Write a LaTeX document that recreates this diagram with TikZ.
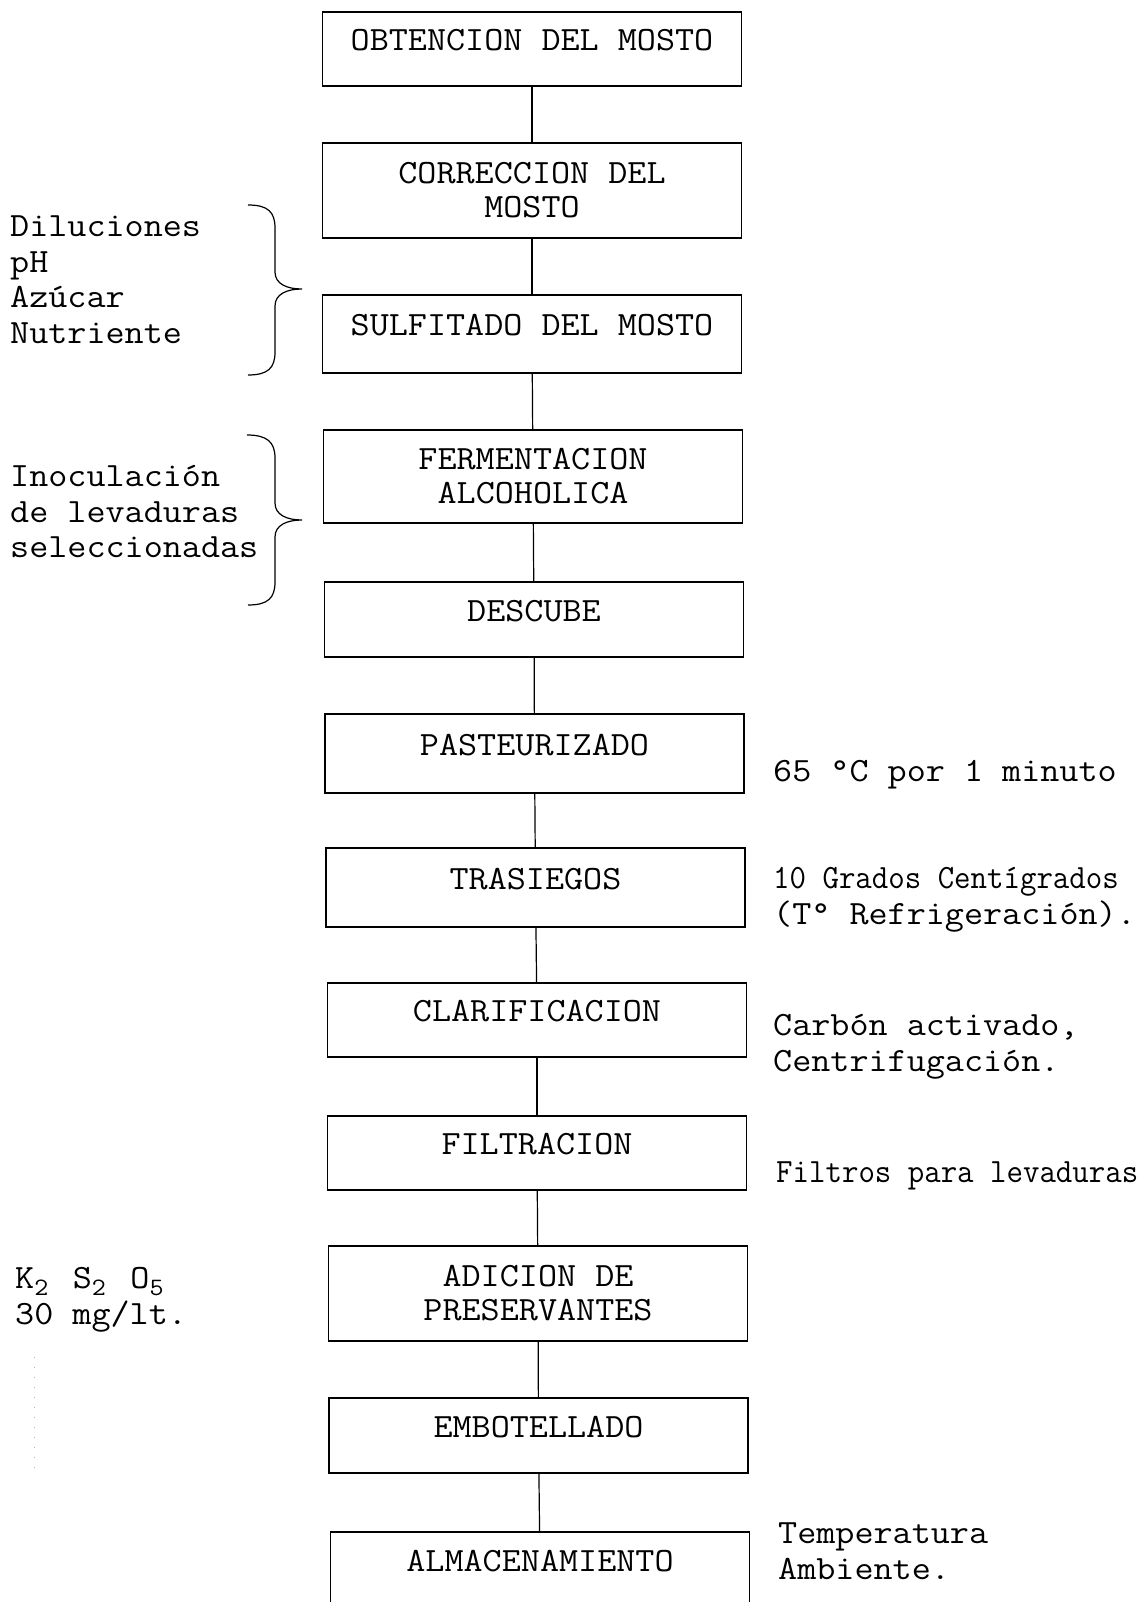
\documentclass[tikz,border=0pt]{standalone}
\usepackage{fontspec}
\setmonofont[FakeStretch=1.09]{Latin Modern Mono}
\newfontfamily\narrowmono[FakeStretch=0.94]{Latin Modern Mono}
\newcommand\lowdigit[1]{\makebox[0.572em][l]{\raisebox{-0.2em}{\fontsize{25}{25}\selectfont #1}}}

\begin{document}
\begin{tikzpicture}[x=1pt,y=-1pt,
  every node/.style={font=\ttfamily\fontsize{34}{34}\selectfont},
  stage/.style={draw,line width=1.3pt,minimum width=419pt,inner sep=0pt,align=center},
  onestage/.style={stage,minimum height=76pt,text depth=18pt},
  twostage/.style={stage,minimum height=95pt},
  note/.style={anchor=base west,align=left,inner sep=0pt,font=\ttfamily\fontsize{34}{35.5}\selectfont},
  link/.style={line width=1.2pt},
  curly/.style={line width=1.2pt}]

\path[fill=white] (0,0) rectangle (1147,1602);
\useasboundingbox (0,0) rectangle (1147,1602);

% etapas del proceso
\node[onestage,minimum height=74pt] (obtencion) at (532,49) {OBTENCION DEL MOSTO};
\node[twostage] (correccion) at (532,190.5) {CORRECCION DEL\\MOSTO};
\node[onestage,minimum height=78pt] (sulfitado) at (532,334) {SULFITADO DEL MOSTO};
\node[twostage,minimum height=93pt] (fermentacion) at (533,476.5) {FERMENTACION\\ALCOHOLICA};
\node[onestage,minimum height=75pt] (descube) at (534,619.5) {DESCUBE};
\node[onestage,minimum height=79pt] (pasteurizado) at (534.5,753.5) {PASTEURIZADO};
\node[onestage,minimum height=79pt] (trasiegos) at (535.5,887.5) {TRASIEGOS};
\node[onestage,minimum height=74pt] (clarificacion) at (537,1020) {CLARIFICACION};
\node[onestage,minimum height=74pt] (filtracion) at (537,1153) {FILTRACION};
\node[twostage] (adicion) at (538,1293.5) {ADICION DE\\PRESERVANTES};
\node[onestage,minimum height=75pt] (embotellado) at (538.5,1435.5) {EMBOTELLADO};
\node[onestage] (almacenamiento) at (540,1570) {ALMACENAMIENTO};

\draw[link] (obtencion) -- (correccion);
\draw[link] (correccion) -- (sulfitado);
\draw[link] (sulfitado) -- (fermentacion);
\draw[link] (fermentacion) -- (descube);
\draw[link] (descube) -- (pasteurizado);
\draw[link] (pasteurizado) -- (trasiegos);
\draw[link] (trasiegos) -- (clarificacion);
\draw[link] (clarificacion) -- (filtracion);
\draw[link] (filtracion) -- (adicion);
\draw[link] (adicion) -- (embotellado);
\draw[link] (embotellado) -- (almacenamiento);

% notas de la izquierda (base = ultima linea)
\node[note] (correctivos) at (10,343) {Diluciones\\pH\\Azúcar\\Nutriente};
\node[note] (inoculo) at (10,557.5) {Inoculación\\de levaduras\\seleccionadas};
\node[note] (sulfito) at (15,1324) {K\lowdigit{2} S\lowdigit{2} O\lowdigit{5}\\30 mg/lt.};

\draw[curly] (248,205) .. controls (268,205) and (275,212) .. (275,228) -- (275,272)
  .. controls (275,284) and (287,289) .. (302,289)
  .. controls (287,289) and (275,294) .. (275,306) -- (275,352)
  .. controls (275,368) and (268,375) .. (248,375);
\draw[curly] (247,435) .. controls (267,435) and (275,442) .. (275,458) -- (275,503)
  .. controls (275,515) and (287,520) .. (302,520)
  .. controls (287,520) and (275,525) .. (275,537) -- (275,582)
  .. controls (275,598) and (268,605) .. (248,605);
\draw[gray!60,line width=1pt,dash pattern=on 1pt off 9pt] (34,1357) -- (34,1477);

% notas de la derecha
\node[note] (calor) at (773,781) {65 °C por 1 minuto};
\node[note] (frio) at (773,924) {{\narrowmono 10 Grados Centígrados}\\(T° Refrigeración).};
\node[note] (clarificante) at (773,1071) {Carbón activado,\\Centrifugación.};
\node[note] (filtros) at (776,1182) {\narrowmono Filtros para levaduras};
\node[note] (ambiente) at (778,1579) {Temperatura\\Ambiente.};
\end{tikzpicture}
\end{document}
